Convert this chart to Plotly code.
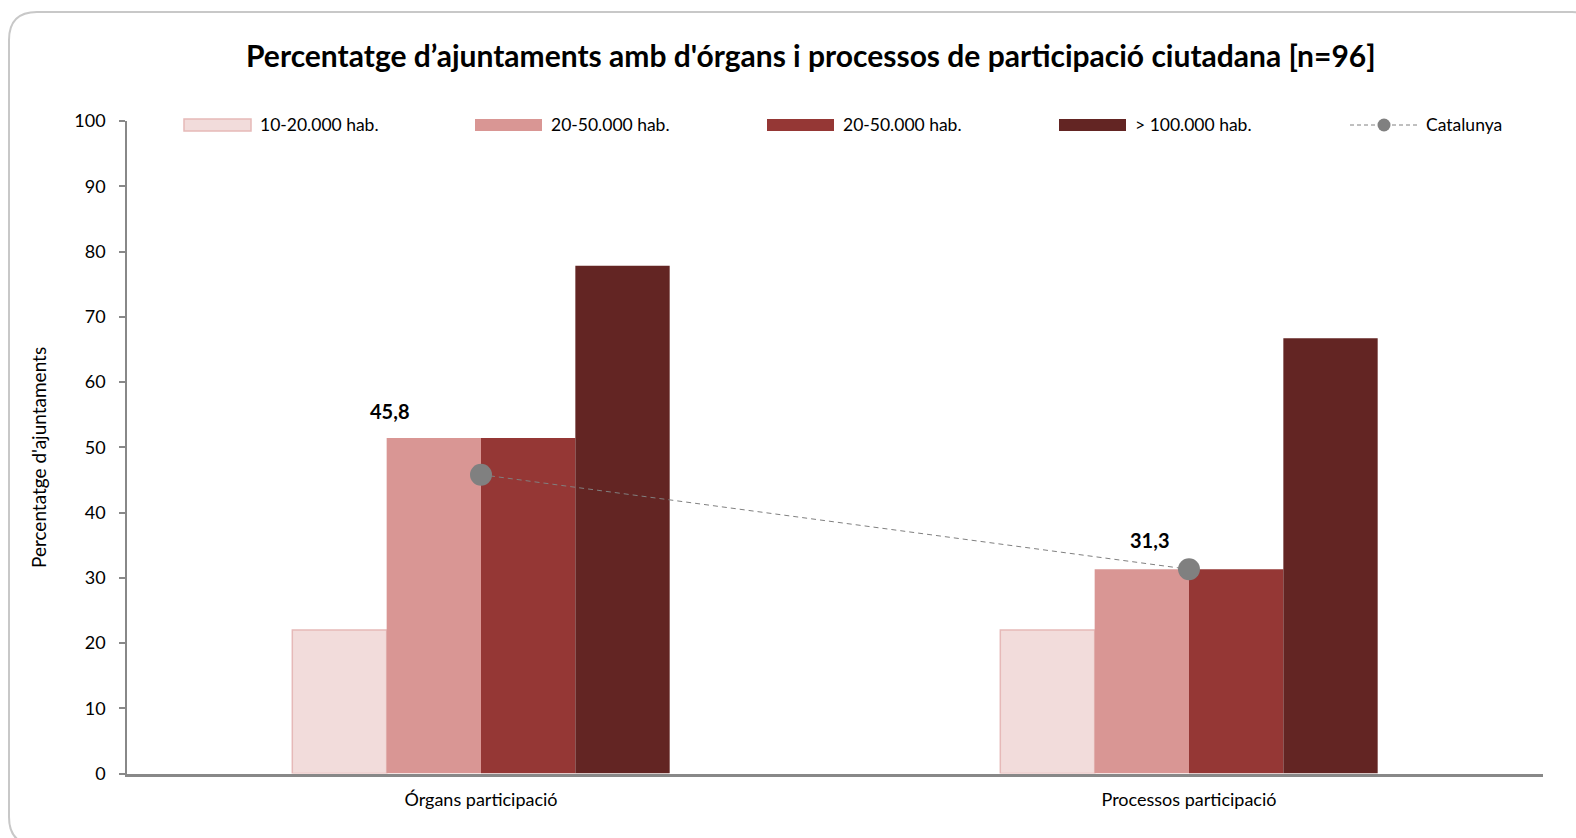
import plotly.graph_objects as go

# Data
categories = ["Órgans participació", "Processos participació"]
series_names = ["10-20.000 hab.", "20-50.000 hab.", "20-50.000 hab.", "> 100.000 hab."]
series_values = [
    [22.0, 22.0],
    [51.4, 31.3],
    [51.4, 31.3],
    [77.8, 66.7],
]
catalunya_name = "Catalunya"
catalunya_values = [45.8, 31.3]
y_ticks = [0, 10, 20, 30, 40, 50, 60, 70, 80, 90, 100]

# Styling
W, H = 1576, 838
FONT = "Lato"
fills = ["#F2DCDB", "#D99694", "#953735", "#632523"]
edges = ["#E6B9B8", "#D99694", "#953735", "#632523"]
edge_w = [1.5, 0, 0, 0]
gray = "#808080"
dash_style = "5px,4px"
label_shift = [(-92, 64), (-40, 29)]


def px(x):
    return x / W


def py(y):
    return 1 - y / H


fig = go.Figure()

for name, vals, fc, ec, ew in zip(series_names, series_values, fills, edges, edge_w):
    fig.add_trace(go.Bar(
        x=categories, y=vals, name=name,
        marker=dict(color=fc, line=dict(color=ec, width=ew)),
        showlegend=False,
    ))

fig.add_trace(go.Scatter(
    x=categories, y=catalunya_values, name=catalunya_name,
    mode="lines+markers",
    line=dict(color=gray, width=1, dash=dash_style),
    marker=dict(color=gray, size=22),
    showlegend=False,
))

annotations = []
for cat, v, (dx, dy) in zip(categories, catalunya_values, label_shift):
    annotations.append(dict(
        x=cat, y=v, xref="x", yref="y", showarrow=False,
        text=f"<b>{v:.1f}</b>".replace(".", ","),
        xshift=dx, yshift=dy,
        font=dict(family=FONT, size=20, color="#000000"),
    ))

# Legend row drawn as shapes + text
shapes = []
legend_x = [184, 475, 767, 1059]
legend_y = 125
for lx, name, fc, ec in zip(legend_x, series_names, fills, edges):
    shapes.append(dict(
        type="rect", xref="paper", yref="paper",
        x0=px(lx), x1=px(lx + 67), y0=py(legend_y + 6), y1=py(legend_y - 6),
        fillcolor=fc, line=dict(color=ec, width=1.5 if fc == fills[0] else 0),
    ))
    annotations.append(dict(
        x=px(lx + 74), y=py(legend_y), xref="paper", yref="paper",
        xanchor="left", yanchor="middle", showarrow=False, text=name,
        font=dict(family=FONT, size=17.5, color="#000000"),
    ))

cx0 = 1350
shapes.append(dict(
    type="line", xref="paper", yref="paper",
    x0=px(cx0), x1=px(cx0 + 68), y0=py(legend_y), y1=py(legend_y),
    line=dict(color=gray, width=1, dash="4px,3px"),
))
shapes.append(dict(
    type="circle", xref="paper", yref="paper",
    x0=px(cx0 + 34 - 6.5), x1=px(cx0 + 34 + 6.5),
    y0=py(legend_y + 6.5), y1=py(legend_y - 6.5),
    fillcolor=gray, line=dict(width=0),
))
annotations.append(dict(
    x=px(cx0 + 74), y=py(legend_y), xref="paper", yref="paper",
    xanchor="left", yanchor="middle", showarrow=False, text=catalunya_name,
    font=dict(family=FONT, size=17.5, color="#000000"),
))

# Rounded outer frame
x0, y0, x1, y1, r = 9, 12, 1600, 845, 28
frame = (
    f"M {px(x0)},{py(y0 + r)} "
    f"Q {px(x0)},{py(y0)} {px(x0 + r)},{py(y0)} "
    f"L {px(x1 - r)},{py(y0)} "
    f"Q {px(x1)},{py(y0)} {px(x1)},{py(y0 + r)} "
    f"L {px(x1)},{py(y1 - r)} "
    f"Q {px(x1)},{py(y1)} {px(x1 - r)},{py(y1)} "
    f"L {px(x0 + r)},{py(y1)} "
    f"Q {px(x0)},{py(y1)} {px(x0)},{py(y1 - r)} Z"
)
shapes.append(dict(type="path", xref="paper", yref="paper", path=frame,
                   line=dict(color="#C8C8C8", width=2), layer="below"))

# Title
annotations.append(dict(
    x=px(811), y=py(55), xref="paper", yref="paper", showarrow=False,
    xanchor="center", yanchor="middle",
    text="<b>Percentatge d’ajuntaments amb d'órgans i processos de participació ciutadana [n=96]</b>",
    font=dict(family=FONT, size=30, color="#000000"),
))

# Y axis title
annotations.append(dict(
    x=px(38), y=py(458), xref="paper", yref="paper", showarrow=False,
    xanchor="center", yanchor="middle", textangle=-90,
    text="Percentatge d'ajuntaments",
    font=dict(family=FONT, size=19, color="#000000"),
))

fig.update_layout(
    width=W, height=H,
    margin=dict(l=0, r=0, t=0, b=0, autoexpand=False),
    paper_bgcolor="white", plot_bgcolor="white",
    barmode="group", bargap=0.467, bargroupgap=0,
    showlegend=False,
    font=dict(family=FONT, size=18, color="#000000"),
    shapes=shapes, annotations=annotations,
    xaxis=dict(
        domain=[px(127), px(1543)],
        showline=True, linecolor="#888888", linewidth=2.5,
        ticks="", showgrid=False, zeroline=False,
        tickfont=dict(family=FONT, size=18, color="#000000"),
        ticklabelstandoff=8,
    ),
    yaxis=dict(
        domain=[py(773.5), py(121)],
        range=[0, 100], tickvals=y_ticks,
        showline=True, linecolor="#888888", linewidth=1.5,
        ticks="outside", ticklen=6, tickcolor="#888888", tickwidth=1.5,
        showgrid=False, zeroline=False,
        tickfont=dict(family=FONT, size=18, color="#000000"),
        ticklabelstandoff=10,
    ),
)

fig.write_html("out.html")
